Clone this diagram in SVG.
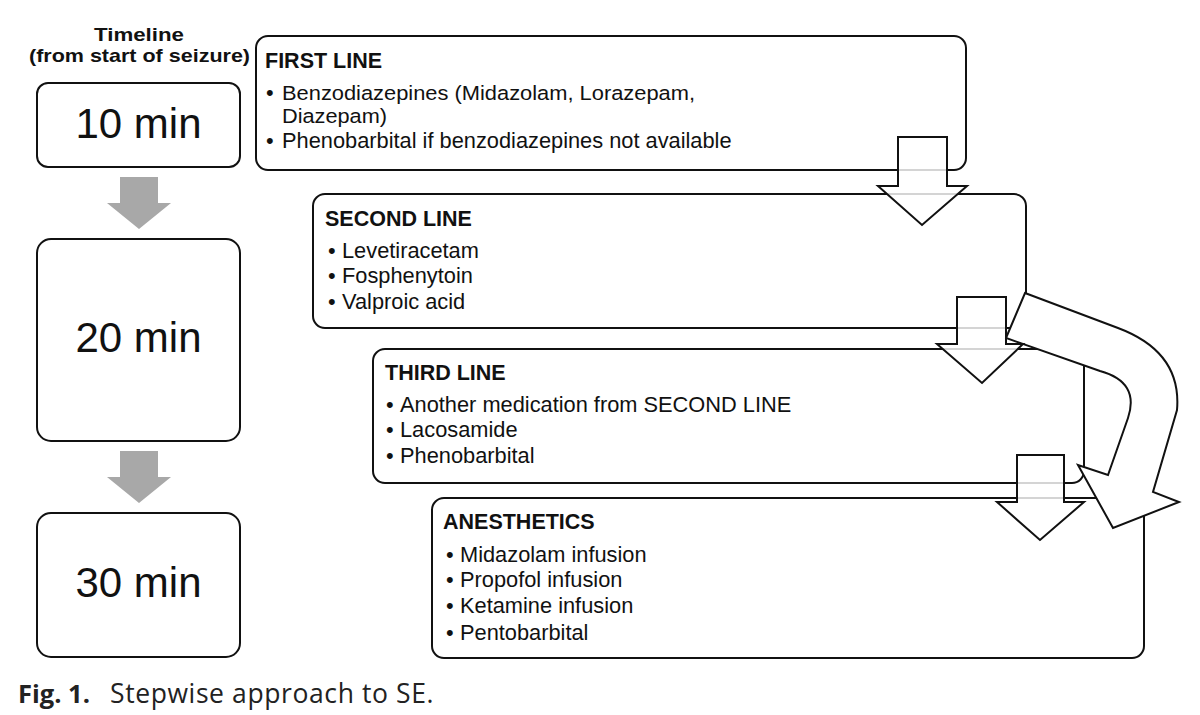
<svg xmlns="http://www.w3.org/2000/svg" width="1200" height="715" viewBox="0 0 1200 715">
<style>
  .box { fill: #fff; stroke: #111; stroke-width: 2; }
  .tl { font-family: "Liberation Sans", Arial, sans-serif; font-size: 42px; fill: #111; text-anchor: middle; }
  .hd { font-family: "Liberation Sans", Arial, sans-serif; font-size: 21.5px; font-weight: bold; fill: #111; }
  .bd { font-family: "Liberation Sans", Arial, sans-serif; font-size: 21.8px; fill: #111; }
  .bds { font-family: "Liberation Sans", Arial, sans-serif; font-size: 20.5px; fill: #111; }
  .ttl { font-family: "Liberation Sans", Arial, sans-serif; font-size: 19px; font-weight: bold; fill: #111; text-anchor: middle; }
  .grey { fill: #a8a8a8; }
  .blk { fill: #fff; fill-opacity: 0.82; stroke: #111; stroke-width: 2; stroke-linejoin: miter; }
  .curve { fill: #fff; stroke: #111; stroke-width: 2; stroke-linejoin: miter; }
  .cap { font-family: "Open Sans", "Noto Sans", sans-serif; fill: #222; }
</style>
<rect width="1200" height="715" fill="#fff"/>

<g id="timeline-title">
  <text class="ttl" x="139" y="41" textLength="90" lengthAdjust="spacingAndGlyphs">Timeline</text>
  <text class="ttl" x="139.5" y="62" textLength="221" lengthAdjust="spacingAndGlyphs">(from start of seizure)</text>
</g>

<g id="t10">
  <rect class="box" x="37" y="83" width="203" height="84" rx="11"/>
  <text class="tl" x="138.5" y="138">10 min</text>
</g>
<g id="t20">
  <rect class="box" x="37" y="239" width="203" height="202" rx="14"/>
  <text class="tl" x="138.5" y="352">20 min</text>
</g>
<g id="t30">
  <rect class="box" x="37" y="513" width="203" height="144" rx="14"/>
  <text class="tl" x="138.5" y="597">30 min</text>
</g>

<g id="first-line">
  <rect class="box" x="256" y="36" width="710" height="134" rx="12"/>
  <text class="hd" x="265" y="68">FIRST LINE</text>
  <text class="bd" x="266" y="99.5">•</text>
  <text class="bds" x="282" y="99.5" textLength="413" lengthAdjust="spacingAndGlyphs">Benzodiazepines (Midazolam, Lorazepam,</text>
  <text class="bds" x="282" y="123" textLength="105" lengthAdjust="spacingAndGlyphs">Diazepam)</text>
  <text class="bd" x="266" y="148">•</text>
  <text class="bd" x="282" y="148">Phenobarbital if benzodiazepines not available</text>
</g>

<g id="second-line">
  <rect class="box" x="313" y="194" width="713" height="134" rx="12"/>
  <text class="hd" x="325" y="226">SECOND LINE</text>
  <text class="bd" x="328" y="258">•</text>
  <text class="bd" x="342" y="258">Levetiracetam</text>
  <text class="bd" x="328" y="283">•</text>
  <text class="bd" x="342" y="283">Fosphenytoin</text>
  <text class="bd" x="328" y="309">•</text>
  <text class="bd" x="342" y="309">Valproic acid</text>
</g>

<g id="third-line">
  <rect class="box" x="373" y="349" width="711" height="134" rx="12"/>
  <text class="hd" x="385" y="380">THIRD LINE</text>
  <text class="bd" x="386" y="412">•</text>
  <text class="bd" x="400" y="412">Another medication from SECOND LINE</text>
  <text class="bd" x="386" y="437">•</text>
  <text class="bd" x="400" y="437">Lacosamide</text>
  <text class="bd" x="386" y="463">•</text>
  <text class="bd" x="400" y="463">Phenobarbital</text>
</g>

<g id="anesthetics">
  <rect class="box" x="432" y="498" width="712" height="160" rx="12"/>
  <text class="hd" x="443" y="529">ANESTHETICS</text>
  <text class="bd" x="446" y="562">•</text>
  <text class="bd" x="460" y="562">Midazolam infusion</text>
  <text class="bd" x="446" y="587">•</text>
  <text class="bd" x="460" y="587">Propofol infusion</text>
  <text class="bd" x="446" y="613">•</text>
  <text class="bd" x="460" y="613">Ketamine infusion</text>
  <text class="bd" x="446" y="640">•</text>
  <text class="bd" x="460" y="640">Pentobarbital</text>
</g>

<g id="connectors">
  <path class="grey" d="M120,177 L158,177 L158,203 L171,203 L139,229 L107,203 L120,203 Z"/>
  <path class="grey" d="M120,451 L158,451 L158,477 L171,477 L139,503 L107,477 L120,477 Z"/>
  <path class="curve" d="M1025,293 L1118,328 Q1182,352 1177,410 L1153,492 L1179,502 L1113,528 L1078,465 L1108,475 L1128,418 Q1140,382 1100,371 L1006,338 Z"/>
  <path class="blk" d="M898,137 L947,137 L947,186 L967,186 L922,225 L878,186 L898,186 Z"/>
  <path class="blk" d="M957,297 L1006,297 L1006,344 L1023,344 L982,383 L937,344 L957,344 Z"/>
  <path class="blk" d="M1017,455 L1064,455 L1064,502 L1084,502 L1040,540 L997,502 L1017,502 Z"/>
</g>

<g id="caption">
  <text class="cap" x="18" y="703" font-size="25.5" font-weight="bold">Fig. 1.</text>
  <text class="cap" x="110" y="703" font-size="26.5" letter-spacing="0.6">Stepwise approach to SE.</text>
</g>
</svg>
